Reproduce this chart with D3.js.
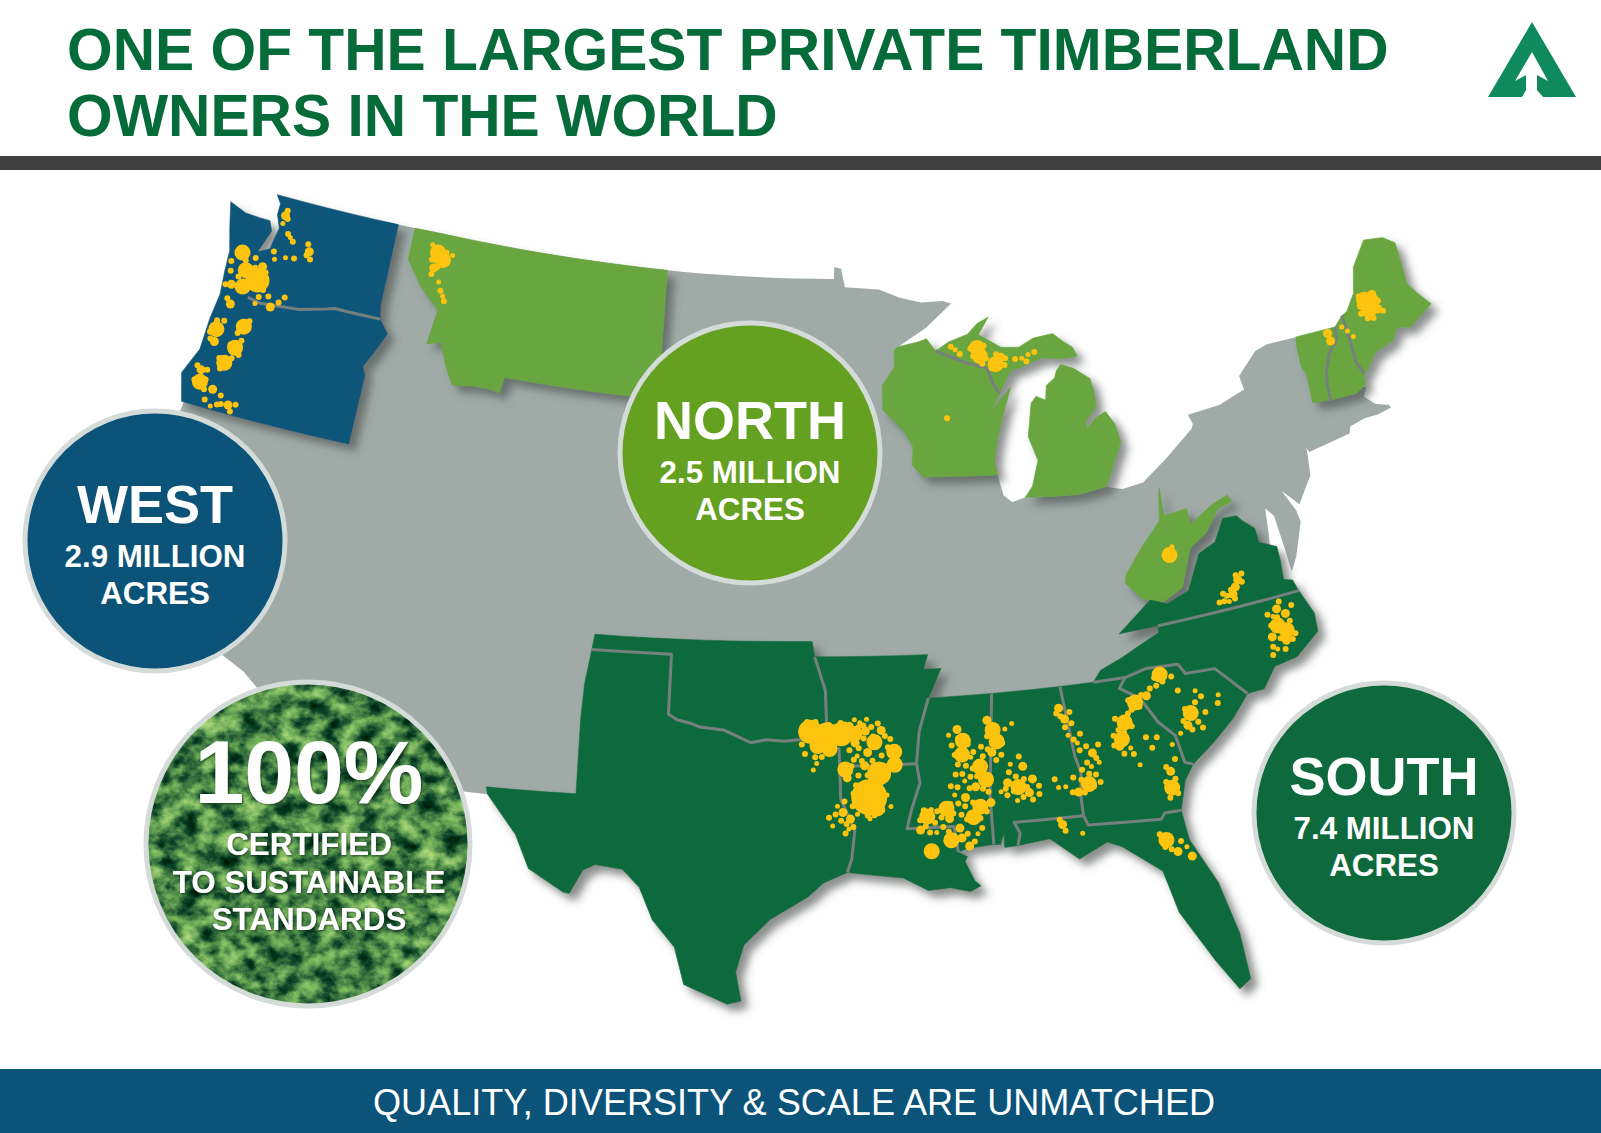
<!DOCTYPE html>
<html>
<head>
<meta charset="utf-8">
<script src="https://cdn.jsdelivr.net/npm/d3@7"></script>
<style>
  html, body { margin: 0; padding: 0; background: #fff; }
  svg { display: block; }
  text { font-family: "Liberation Sans", Arial, sans-serif; }
</style>
</head>
<body>
<div id="chart"></div>
<script>
// shared state borders, lon/lat
const borderWaOr = [[-124.05,46.27],[-123.45,46.27],[-123.2,46.15],[-122.8,46.05],[-122.75,45.65],[-122.2,45.58],[-121.2,45.65],[-120.5,45.7],[-119.3,45.93],[-118.98,46],[-116.92,46]];
const borderWiMi = [[-90.4,46.55],[-89.1,46.13],[-88.1,45.9],[-87.85,45.35],[-87.6,45.1]];
const borderVtNh = [[-71.5,45.01],[-71.55,44.55],[-72.05,44.1],[-72.35,43.5],[-72.45,43],[-72.46,42.4]];
const borderNhMe = [[-71.08,45.3],[-71,44.5],[-70.97,43.6],[-70.75,43.1]];
const borderVaNc = [[-81.7,36.59],[-75.87,36.55]];
const borderNcGa = [[-84.32,35],[-83.1,35]];
const borderNcSc = [[-83.1,35],[-82.3,35.2],[-81.05,35.15],[-80.8,34.82],[-79.67,34.8],[-78.55,33.86]];
const borderSamGa = [[-83.1,35],[-83.35,34.7],[-82.6,34.3],[-82,33.5],[-81.4,33],[-81.15,32.15],[-80.85,32.05]];
const borderAlGa = [[-85.6,35],[-85.2,32.87],[-85,32.3],[-85.05,31.55],[-85,31]];
const borderGaFl = [[-85,31],[-84.85,30.7],[-82.2,30.55],[-82.05,30.72],[-81.45,30.72]];
const borderAlFl = [[-85,31],[-87.6,31],[-87.4,30.65],[-87.5,30.28]];
const borderMsAl = [[-88.2,35],[-88.45,31.9],[-88.4,30.37]];
const borderMsLa = [[-91.15,33],[-91.05,32.4],[-91.4,31.6],[-91.6,31],[-89.85,31],[-89.73,30.2]];
const borderArMs = [[-90.6,35],[-91,34],[-91.15,33]];
const borderArLa = [[-94.04,33],[-91.15,33]];
const borderOkAr = [[-94.62,36.5],[-94.43,35.39],[-94.48,33.64]];
const borderTxAr = [[-94.48,33.64],[-94.04,33.55],[-94.04,33]];
const borderTxLa = [[-94.04,33],[-94.04,31.98],[-93.55,31],[-93.7,30.1],[-93.85,29.7]];
const borderTxOk = [[-103,36.5],[-100,36.5],[-100,34.56],[-99.7,34.4],[-99.2,34.3],[-98.9,34.2],[-98.1,34.13],[-97.7,33.98],[-97.15,33.75],[-96.6,33.85],[-96,33.8],[-95.2,33.88],[-94.48,33.64]];

const rev = a => a.slice().reverse();

// rest of the lower 48, runs inland under the coloured states
const usOutline = [[-119,47],[-117.5,49],[-95.15,49],[-95.15,49.38],[-94.8,49.32],[-94.6,48.72],[-93,48.6],[-92,48.3],[-91,48.1],[-90,48.1],[-89.6,48],[-90.8,47.3],[-92.1,46.75],[-91,46],[-89,45],[-88,44.55],[-87.1,45.25],[-87.5,44.4],[-87.75,43.7],[-87.9,43],[-87.8,42.5],[-87.6,41.85],[-87.3,41.62],[-86.8,41.76],[-84.8,41.73],[-83.45,41.72],[-82.7,41.5],[-81.7,41.5],[-80.5,42],[-79,42.75],[-78.9,42.9],[-79.05,43.27],[-77.5,43.27],[-76.2,43.55],[-76.3,44.1],[-75.3,44.85],[-74.7,45],[-73.4,45],[-72.8,44],[-72.6,42.9],[-71.5,42.8],[-70.8,42.6],[-71,42.3],[-70.6,41.95],[-70,41.8],[-70.2,42.07],[-69.95,41.7],[-70.6,41.55],[-71.2,41.5],[-71.9,41.3],[-72,41.05],[-73.9,40.58],[-73.98,40.75],[-74,40.45],[-74.1,39.75],[-74.9,38.95],[-75.5,39.5],[-75.1,38.8],[-75.05,38.45],[-75.6,37.55],[-75.95,37.15],[-76,37.9],[-76.1,38.9],[-76.4,39.2],[-76.5,38.5],[-76.6,38],[-77,37.5],[-79,36.8],[-84,35],[-88,33],[-93,33],[-98,33],[-102,31],[-104,31],[-106.3,31.75],[-106.5,31.78],[-108.2,31.78],[-108.2,31.33],[-111.07,31.33],[-114.8,32.5],[-117.12,32.53],[-117.3,33.1],[-118.4,33.75],[-119.2,34.15],[-120.6,34.55],[-120.65,35.15],[-121.9,36.6],[-122.5,37.5],[-123,38],[-123.75,39],[-124.35,40.3],[-124.2,41],[-124.1,42.1],[-123,43],[-120,46]];

const westStates = [
  [[-124.7,48.38],[-123.9,48.17],[-123.2,48.15],[-122.75,48.15],[-122.55,47.85],[-122.9,47.1],[-122.4,47.3],[-122.35,47.6],[-122.25,48],[-122.5,48.4],[-122.5,48.75],[-122.76,49],[-117.03,49],[-117.03,46.42],[-116.92,46],...rev(borderWaOr).slice(1),[-124.1,46.9],[-124.4,47.6]],
  [...borderWaOr,[-116.47,45.6],[-116.9,44.9],[-117.2,44.45],[-117.03,44.2],[-117.03,42],[-124.2,42],[-124.55,42.85],[-124.1,43.7],[-124.07,44.7],[-123.95,45.5]]
];
const northStates = [
  [[-116.25,49],[-104.05,49],[-104.05,45],[-111.05,45],[-111.05,44.48],[-111.5,44.55],[-112.3,44.55],[-113.2,44.45],[-113.65,44.95],[-114.1,45.7],[-114.7,45.55],[-114.5,46.65],[-115.45,47.25],[-116.25,48]],
  [[-92.1,46.75],[-91.2,46.87],[-90.8,46.95],...borderWiMi,[-88,44.55],[-87.1,45.25],[-87.5,44.4],[-87.75,43.7],[-87.9,43],[-87.8,42.5],[-90.65,42.5],[-91.15,42.9],[-91.2,43.5],[-91.7,44.05],[-92.75,44.75],[-92.85,45.55],[-92.3,46.1],[-92.3,46.65]],
  [[-90.4,46.55],[-89.8,46.8],[-88.9,47],[-88.45,47.3],[-87.9,47.47],[-88.4,46.95],[-87.4,46.5],[-86.6,46.45],[-85.9,46.68],[-85,46.75],[-84.5,46.45],[-84.1,46.25],[-83.9,45.95],[-84.7,45.95],[-85.6,46.05],[-86.5,45.85],[-87.05,45.75],...rev(borderWiMi)],
  [[-84.75,45.78],[-84.15,45.6],[-83.4,45.2],[-83.3,44.8],[-83.3,44.3],[-83.9,43.9],[-83.9,43.65],[-83.4,43.95],[-82.9,44.07],[-82.55,43.6],[-82.42,43],[-82.9,42.4],[-83.15,42.05],[-83.45,41.73],[-84.8,41.73],[-86.8,41.76],[-86.5,42.1],[-86.2,42.9],[-86.5,43.65],[-86.25,44.7],[-86,44.9],[-85.6,44.75],[-85.5,45.2],[-85.1,45.4],[-85,45.6]],
  [[-73.35,45.01],...borderVtNh,[-73.27,42.42],[-73.25,43.55],[-73.4,43.8],[-73.4,44.6]],
  [...borderVtNh,[-71.3,42.45],[-70.8,42.7],...rev(borderNhMe)],
  [...borderNhMe,[-70.7,43.07],[-70,43.75],[-69.1,44],[-68.8,44.4],[-68.2,44.3],[-67,44.85],[-67.45,45.3],[-67.8,45.7],[-67.8,47.07],[-68.3,47.35],[-69.2,47.45],[-70,46.7],[-70.3,45.9],[-70.8,45.4]],
  // west virginia sits apart from virginia in the picture
  [[-81,41.15],[-81,40.2],[-79.9,40.15],[-79.85,39.6],[-78.7,39.95],[-77.95,40.05],[-77.8,39.8],[-78.5,39.75],[-79.2,39.15],[-80,38.85],[-80.55,37.65],[-81.4,37.35],[-82.3,37.65],[-83,38.35],[-82.95,38.65],[-82.1,39.5],[-81.25,40.1],[-81.05,41.05]]
];
const southStates = [
  [[-83.3,36.6],...borderVaNc,[-76,36.9],[-76.35,37],[-76.3,37.55],[-76.3,38],[-77,38.3],[-77.05,38.75],[-77.5,39.1],[-77.72,39.32],[-78.35,39.4],[-78.87,38.77],[-79.65,38.58],[-80.3,37.5],[-81.25,37.25],[-81.95,37.53]],
  [...borderNcGa,...borderNcSc,[-77.9,33.9],[-77.4,34.5],[-76.5,34.65],[-75.55,35.25],[-75.5,35.8],...rev(borderVaNc),[-81.7,36.35],[-82.6,36],[-83.2,35.73],[-84.05,35.4]],
  [...borderNcSc,[-79.2,33.2],[-80,32.6],...rev(borderSamGa)],
  [[-85.6,35],...borderNcGa,...borderSamGa,[-81.2,31.6],...rev(borderGaFl),...rev(borderAlGa)],
  [[-88.2,35],...borderAlGa,...borderAlFl,[-88,30.25],[-88,30.7],[-88.15,30.35],[-88.4,30.37],...rev(borderMsAl).slice(1)],
  [...borderGaFl,[-81.3,29.8],[-80.7,28.4],[-80.45,26.8],[-80.5,25.4],[-80.95,25.15],[-81.5,26.1],[-82.3,27.7],[-82.5,29],[-83.7,29.9],[-84.2,30.1],[-85.3,29.7],[-86.3,30.4],[-87.5,30.28],...rev(borderAlFl).slice(0,-1)],
  [[-90.6,35],...borderMsAl,[-89.4,30.3],...rev(borderMsLa),[-91,34]],
  [[-94.04,33],...borderArLa.slice(1),...borderMsLa.slice(1),[-89.4,30.05],[-89.5,29.9],[-89.2,29.3],[-89,29.15],[-89.4,29],[-90.1,29.15],[-90.9,29.1],[-91.8,29.5],[-92.3,29.55],...rev(borderTxLa)],
  [...borderOkAr,...borderTxAr,...borderArLa.slice(1),...rev(borderArMs),[-90.05,36],[-90.7,36],[-90.5,36.5]],
  [[-103,37],[-94.62,37],...borderOkAr,...rev(borderTxOk)],
  [...borderTxOk,...borderTxAr.slice(1),...borderTxLa.slice(1),[-94.7,29.4],[-95.2,29],[-96.4,28.35],[-97.2,27.6],[-97.4,26.8],[-97.15,25.95],[-97.6,25.85],[-99.1,26.4],[-99.5,27.5],[-100.3,28.3],[-100.8,29.25],[-101.4,29.77],[-102.3,29.88],[-102.7,29.7],[-103.1,28.98],[-103.3,29],[-104.5,29.65],[-105,30.65],[-106.5,31.78],[-106.6,32],[-103.06,32]]
];
const stateBorders = [borderWaOr.slice(4),borderWiMi,borderVtNh,borderNhMe,borderVaNc,borderNcGa,borderNcSc,borderSamGa,borderAlGa,borderGaFl,borderAlFl,borderMsAl,borderMsLa,borderArMs,borderArLa,borderOkAr,borderTxAr,borderTxLa,borderTxOk];

// timberland holdings: lon, lat, size class
const holdingsWest = [[-123.53,46.95,3],[-123.1,45.93,3],[-122.55,46.24,4],[-122.5,46.7,2],[-123.17,46.45,3],[-123.6,45.9,2],[-121.7,45.55,2],[-123.4,45.3,2],[-123.67,44.43,3],[-123.6,44.05,2],[-122.57,44.74,3],[-122.68,44.04,3],[-122.94,43.5,3],[-123.8,43.1,2],[-123.7,42.73,3],[-123.1,42.62,2],[-122.3,42.28,2],[-123,42.1,1],[-122.13,48.43,2],[-122.15,48.17,1],[-121.66,47.81,1],[-120.67,47.53,2],[-121.63,47.16,1],[-122.08,47.02,1],[-122.38,45.53,1]];
const holdingsNorth = [[-115,48.4,3],[-114.7,48.2,3],[-115.05,47.9,2],[-115.3,48.6,1],[-114.3,48.4,1],[-114.4,47.1,1],[-114.7,47.5,1],[-88.5,46.55,3],[-88.4,46.3,3],[-87.7,46,3],[-87.45,46.2,2],[-86.5,46.1,1],[-86.2,46.2,1],[-89.5,46.55,1],[-88.1,46.2,1],[-69.9,45.6,3],[-69.6,45.5,3],[-69.8,45.25,3],[-69.4,45.2,2],[-70.1,45.45,2],[-69.5,45.7,2],[-71.9,44.85,2],[-71.85,44.55,2],[-71.2,44.95,1],[-71,44.75,1],[-70.8,44.5,1],[-80.95,38.85,3],[-80.8,39.1,1]];
const holdingsSouth = [[-95.1,34.1,4],[-94.5,34,4],[-93.95,34,4],[-93.45,34,3],[-94.85,33.65,3],[-94.4,33.55,3],[-92.7,33.72,3],[-91.97,33.4,3],[-91.97,33,3],[-92.57,32.75,4],[-93.83,32.9,3],[-93.77,32.64,2],[-92.97,32.02,5],[-93.17,31.76,3],[-92.7,31.66,3],[-93.63,34.24,2],[-93.23,34.34,1],[-93.03,34.08,2],[-93.43,33.72,2],[-92.97,33.41,2],[-92.43,34.08,2],[-93.1,33,2],[-93.43,34.44,1],[-92.97,34.44,1],[-93.37,33.31,1],[-92.3,32.07,1],[-92.17,31.71,1],[-93.97,31.56,2],[-93.7,31.35,2],[-94.17,31.76,1],[-93.77,31.04,1],[-94.37,31.14,1],[-95.03,32.9,1],[-94.9,33.1,1],[-93.43,31.5,1],[-92.97,31.35,1],
  [-89.57,33.98,2],[-89.37,33.62,3],[-89.43,33.2,3],[-89.1,33.1,1],[-89.9,33.82,1],[-88.77,32.79,3],[-88.57,32.38,3],[-88.97,32.18,2],[-89.37,31.87,2],[-88.83,31.56,3],[-89.1,31.25,3],[-89.77,31.97,1],[-89.37,32.38,1],[-88.43,31.66,2],[-90.83,31.35,3],[-90.1,31.56,3],[-91.1,30.94,2],[-90,31.25,2],[-90.5,30.84,1],[-90.67,31.56,1],[-89.97,30.58,3],[-89.57,30.63,2],[-89.3,30.37,2],[-90.72,30.27,3],[-89.63,30.94,2],[-88.97,30.73,1],
  [-88.43,34.19,2],[-88.23,33.88,3],[-88.1,33.52,3],[-87.77,33.88,1],[-87.5,34.03,1],[-88.3,33.2,2],[-87.63,32.79,1],[-87.17,32.69,2],[-87.77,32.23,2],[-87.37,32.07,3],[-86.97,31.87,2],[-86.83,32.28,2],[-88.03,31.97,1],[-87.43,31.66,1],
  [-85.7,34.35,2],[-85.5,34,2],[-85.4,33.5,1],[-85.07,33.23,1],[-84.53,32.87,2],[-84.6,32.46,1],[-84.73,31.94,3],[-85.13,31.74,2],[-85.6,31.94,1],[-84.3,32.56,1],[-85.87,31.94,1],[-85.8,30.8,2],[-85.07,30.47,1],
  [-83.25,33.65,3],[-83.4,33.15,3],[-83.5,32.95,2],[-83.1,32.85,1],[-82.8,32.3,1],[-81.78,34.92,3],[-82.35,34.35,2],[-82.8,34.2,3],[-80.5,34.25,1],[-79.65,34,1],[-80.75,33.6,3],[-80.9,33.25,2],[-81.2,33.05,1],[-81.55,32.75,1],[-81.7,31.95,2],[-81.7,31.45,3],[-82.1,29.9,3],[-81.8,29.5,2],[-81.45,29.6,1],[-81.35,29.3,2],
  [-76.9,36.2,2],[-76.6,36,2],[-77,35.7,3],[-76.7,35.5,3],[-77.3,35.4,2],[-76.8,35.2,2],[-77.2,35,1],[-77.1,36,1],[-78.2,37.4,2],[-78.35,37.2,2],[-78.5,37,2],[-78.7,36.8,1]];
// scattered small tracts around the blocks above
const tractsWest = [[-123.9,46.6],[-123.8,46.3],[-123.4,46.2],[-123.3,46.75],[-122.9,46.9],[-122.85,46.3],[-122.9,46.05],[-122.3,46.55],[-122.8,46.6],[-122.2,46],[-122.3,45.75],[-121.9,45.85],[-121.4,45.75],[-121.2,45.95],[-123.2,46],[-123.85,45.85],[-123.6,45.45],[-123.75,44.7],[-123.9,44.3],[-123.45,44.75],[-123.8,44.1],[-122.4,44.95],[-122.75,44.5],[-122.5,44.3],[-122.9,44.1],[-122.45,43.85],[-123.2,43.6],[-123.05,43.3],[-122.7,43.7],[-124,43.2],[-123.55,43.15],[-123.5,42.85],[-123.95,42.75],[-123.45,42.55],[-122.7,42.5],[-122.6,42.25],[-122,42.35],[-122.15,42.1],[-122.75,42.2],[-123.3,42.25],[-122.1,48.6],[-122,48.35],[-121.8,47.9],[-121.5,47.7],[-120.8,47.75],[-120.55,47.3],[-120.75,47.4],[-121.25,47.2],[-122.2,47.25]];
const tractsNorth = [[-115.2,48.15],[-115,48.15],[-114.9,47.95],[-114.6,48.45],[-115.1,47.7],[-114.55,47.25],[-114.3,46.95],[-88.8,46.55],[-88.2,46.6],[-88.3,46.05],[-87.9,45.9],[-87.3,45.95],[-87.25,46.15],[-86.8,46.1],[-86.3,46],[-85.9,46.25],[-89.7,46.65],[-89.3,46.4],[-88.7,46.3],[-87.65,46.3],[-70.1,45.75],[-70.2,45.2],[-69.7,44.95],[-69.3,45.45],[-69.2,45.1],[-69.95,45],[-89.9,44.4]];
const tractsSouth = [[-93.8,34.3],[-93.5,34.1],[-93.3,34.2],[-93.1,34.25],[-92.8,34.2],[-92.55,34.3],[-92.3,33.9],[-92.1,33.8],[-92.75,33.9],[-93.1,33.85],[-93.3,33.55],[-93.65,33.5],[-93.5,33.2],[-93.2,33.15],[-92.8,33.15],[-92.45,33.3],[-92.2,33.55],[-93.6,33],[-93.35,32.7],[-93,32.7],[-92.85,32.5],[-93.45,32.4],[-93.2,32.4],[-92.55,32.35],[-92.4,32.55],[-93.55,32.15],[-93.35,31.95],[-92.45,31.95],[-92.5,31.6],[-93.05,31.45],[-92.8,31.45],[-93.6,31.75],[-93.9,31.9],[-94.05,31.3],[-93.85,31.2],[-94.25,31.5],[-93.6,31.1],[-93.9,30.9],[-94.5,31.4],[-94.7,33.3],[-95.3,33.4],[-95.4,33.7],[-94.95,33.3],[-95.2,34.4],[-94.9,34.4],[-94.4,34.3],[-93.95,34.35],
  [-89.8,33.5],[-89.7,33.2],[-89.55,33.7],[-89.2,33.5],[-89,33.25],[-89.6,32.9],[-89.3,32.85],[-89.05,32.75],[-89.7,32.6],[-89.45,32.6],[-89.15,32.5],[-88.9,32.5],[-89.9,32.25],[-89.65,32.2],[-89.2,32.15],[-88.7,32.1],[-88.5,32],[-89.95,31.7],[-89.65,31.7],[-89.4,31.6],[-89.1,31.7],[-88.6,31.4],[-88.85,31.2],[-89.35,31.2],[-89.55,31.35],[-89.85,31.4],[-90.3,31.3],[-90.45,31.5],[-90.55,31.15],[-90.9,31.05],[-90.75,30.85],[-90.25,31],[-90.05,30.85],[-89.85,30.7],[-89.35,30.75],[-89.1,30.5],[-88.8,30.9],[-90.15,30.55],[-91.1,31.25],[-90.95,31.55],[-88.7,33.4],[-88.65,33.1],[-88.45,33.3],[-88.1,33.95],[-88.45,33.7],[-87.9,33.45],[-87.95,33.1],[-88.15,32.95],[-87.7,32.55],[-87.45,32.4],[-87.15,32.3],[-87.05,32.05],[-87.55,31.95],[-87.8,31.85],[-87.2,31.75],[-86.85,31.65],[-86.6,32.05],[-87.3,33],[-87.85,32.05],[-86.6,31.8],
  [-85.65,34.1],[-85.8,34.2],[-85.3,34.2],[-85.5,33.75],[-85.25,33.85],[-85.2,33.35],[-84.95,33.5],[-85,33],[-84.75,33.1],[-84.3,33.1],[-84.4,32.7],[-84.75,32.6],[-84.95,32.4],[-84.7,32.25],[-84.45,32.2],[-85,32.1],[-85.3,32.2],[-84.9,31.7],[-84.55,31.85],[-85.35,31.75],[-84.3,31.95],[-86,32.2],[-85.9,30.95],[-85.7,30.6],
  [-83.6,33.8],[-83.5,33.45],[-83.1,33.9],[-83,33.5],[-83.3,33.35],[-83.7,33.3],[-83.7,33],[-83.35,32.7],[-83,32.65],[-82.95,34],[-83.05,34.3],[-82.65,34.05],[-82.55,34.4],[-82.2,34.55],[-82,34.85],[-81.6,34.95],[-81.35,34.8],[-81.95,34.6],[-81.7,34.7],[-81.15,34.35],[-82.5,33.1],[-82.3,32.75],[-82.1,33.05],[-80.3,34.05],[-80.55,33.9],[-80.2,33.55],[-80.95,33.75],[-80.5,33.3],[-80.35,33.1],[-80.75,33.1],[-81.05,33.4],[-79.7,33.75],[-81.5,32.3],[-81.85,32.1],[-81.55,31.7],[-81.9,31.65],[-81.5,31.25],[-81.8,31.15],[-82.3,30.1],[-82.2,29.7],[-82,29.6],[-81.6,29.8],
  [-77.3,36.1],[-76.95,35.95],[-76.5,35.75],[-77.25,35.75],[-77.35,35.1],[-77,35.3],[-76.55,35.2],[-76.4,35.35],[-77.4,34.85],[-76.9,34.95],[-76.75,36.4],[-76.3,36.2],[-78,37.55],[-78.05,37.3],[-78.25,37.55],[-78.55,37.15],[-78.75,37],[-78.9,36.85],[-78.45,36.85],[-79.1,36.85],[-78.9,37.1]];

// offsets that pull the projected map onto the picture, by grid node
const gridLons = [-125, -115, -105, -95, -85, -75, -65];
const gridLats = [25, 30, 35, 40, 45, 50];
const gridDx = [
  [25, -10, -55, -38, 2, 15, 0],
  [25, -10, -60, -22, -18, -5, 0],
  [25, 0, -63, -25, -10, 3, 0],
  [-4, 10, -33, -50, 15, -10, -6],
  [-2, 13, 22, 0, 8, -3, 0],
  [0, 14, 20, 5, 10, 0, 0]
];
const gridDy = [
  [0, 0, 5, 7, 2, 0, 0],
  [0, 0, -3, -8, -5, -10, 0],
  [5, 5, -12, -10, -12, -18, 0],
  [8, 7, -5, -5, 12, -30, -3],
  [3, 5, 10, 7, 8, 0, 0],
  [0, 0, 4, 7, 0, 0, 0]
];

const titleLines = ["ONE OF THE LARGEST PRIVATE TIMBERLAND", "OWNERS IN THE WORLD"];
const footerText = "QUALITY, DIVERSITY & SCALE ARE UNMATCHED";
const regionNames = ["WEST", "NORTH", "SOUTH"];
const regionAcres = ["2.9 MILLION", "2.5 MILLION", "7.4 MILLION"];
const regionColors = ["#0b5379", "#65a121", "#0e6a3c"];
const regionCenters = [[155, 541], [750, 453], [1384, 813]];
const regionTextY = [541, 457, 813];
const certLines = ["CERTIFIED", "TO SUSTAINABLE", "STANDARDS"];
const logoOuter = [[1532,22],[1488,97],[1576,97]];
const logoInner = [[1532,52],[1515,81],[1526,75],[1526,90],[1522,97],[1543,97],[1537,90],[1537,75],[1548,81]];

const width = 1601, height = 1133;
const svg = d3.select("#chart").append("svg").attr("width", width).attr("height", height);

const defs = svg.append("defs");
const shadow = defs.append("filter").attr("id", "stateShadow").attr("x", "-10%").attr("y", "-10%").attr("width", "125%").attr("height", "125%");
shadow.append("feDropShadow").attr("dx", 7).attr("dy", 7).attr("stdDeviation", 4).attr("flood-color", "#4c5250").attr("flood-opacity", 0.65);

const textShadow = defs.append("filter").attr("id", "textShadow").attr("x", "-10%").attr("y", "-10%").attr("width", "120%").attr("height", "130%");
textShadow.append("feDropShadow").attr("dx", 1).attr("dy", 1).attr("stdDeviation", 1.2).attr("flood-color", "#0a2a0a").attr("flood-opacity", 0.8);

// forest canopy texture for the photo circle
const forest = defs.append("filter").attr("id", "forest").attr("x", 0).attr("y", 0).attr("width", "100%").attr("height", "100%");
forest.append("feTurbulence").attr("type", "fractalNoise").attr("baseFrequency", "0.05 0.06").attr("numOctaves", 5).attr("seed", 7);
forest.append("feColorMatrix").attr("type", "matrix").attr("values", "1 0 0 0 0  1 0 0 0 0  1 0 0 0 0  0 0 0 0 1");
const ramp = forest.append("feComponentTransfer");
ramp.append("feFuncR").attr("type", "table").attr("tableValues", "0 0 0 0.01 0.06 0.16 0.3 0.5 0.6");
ramp.append("feFuncG").attr("type", "table").attr("tableValues", "0 0.01 0.03 0.08 0.22 0.42 0.58 0.7 0.75");
ramp.append("feFuncB").attr("type", "table").attr("tableValues", "0 0 0.01 0.03 0.06 0.1 0.16 0.22 0.3");

defs.append("clipPath").attr("id", "photoClip").append("circle").attr("cx", 308).attr("cy", 844).attr("r", 162);

// albers, then stretched onto the picture between the extreme points
const albers = d3.geoAlbers().scale(1000).translate([0, 0]);
const xScale = d3.scaleLinear()
  .domain([albers([-124.7,48.38])[0], albers([-67,44.85])[0]]).range([231, 1432]);
const yScale = d3.scaleLinear()
  .domain([albers([-122.76,49])[1], albers([-97.4,25.85])[1]]).range([194, 1000]);

const lonIndex = d3.scaleLinear().domain(gridLons).range(gridLons.map((_, i) => i)).clamp(true);
const latIndex = d3.scaleLinear().domain(gridLats).range(gridLats.map((_, i) => i)).clamp(true);
function offset(grid, d) {
  const u = lonIndex(d[0]), v = latIndex(d[1]);
  const i = Math.min(Math.floor(u), gridLons.length - 2), j = Math.min(Math.floor(v), gridLats.length - 2);
  const s = u - i, t = v - j;
  return (grid[j][i] * (1 - s) + grid[j][i + 1] * s) * (1 - t) + (grid[j + 1][i] * (1 - s) + grid[j + 1][i + 1] * s) * t;
}
const px = d => xScale(albers(d)[0]) + offset(gridDx, d);
const py = d => yScale(albers(d)[1]) + offset(gridDy, d);

// long straight parallels have to bend with the projection
function densify(line) {
  const out = [];
  line.forEach((p, i) => {
    const q = line[i + 1];
    out.push(p);
    if (!q) return;
    const n = Math.floor(Math.hypot(q[0] - p[0], q[1] - p[1]));
    for (let k = 1; k < n; k++) {
      const f = k / n;
      out.push([p[0] + (q[0] - p[0]) * f, p[1] + (q[1] - p[1]) * f]);
    }
  });
  return out;
}
const lineGeo = d3.line().x(px).y(py);
const geoPath = d => lineGeo(densify(d));
const closedPath = d => geoPath([...d, d[0]]) + "Z";
const plainPath = d3.line();
const sizeScale = d3.scaleLinear().domain([1, 2, 3, 4, 5]).range([2.5, 4.5, 8, 12, 18]);

// header
titleLines.forEach((t, i) => {
  svg.append("text").attr("x", 67).attr("y", 70 + i * 66).attr("font-size", 58.7).attr("font-weight", "bold").attr("fill", "#056b39").text(t);
});
svg.append("rect").attr("x", 0).attr("y", 156).attr("width", width).attr("height", 14).attr("fill", "#414141");
svg.append("path").attr("d", plainPath(logoOuter) + "Z").attr("fill", "#0f8a5f");
svg.append("path").attr("d", plainPath(logoInner) + "Z").attr("fill", "#fff");

// map
const map = svg.append("g");
map.append("path").attr("d", closedPath(usOutline)).attr("fill", "#a0aba8");

const regions = [[westStates, "#0f5479"], [northStates, "#6aa641"], [southStates, "#116b3d"]];
regions.forEach(([states, color]) => {
  map.append("g").attr("filter", "url(#stateShadow)")
    .selectAll("path").data(states).join("path")
    .attr("d", closedPath)
    .attr("fill", color)
    .attr("stroke", color)
    .attr("stroke-width", 0.6);
});

map.append("g").selectAll("path").data(stateBorders).join("path")
  .attr("d", geoPath)
  .attr("fill", "none")
  .attr("stroke", "#76817e")
  .attr("stroke-width", 3)
  .attr("stroke-linejoin", "round");

map.append("g").selectAll("circle").data([...holdingsWest, ...holdingsNorth, ...holdingsSouth]).join("circle")
  .attr("cx", px)
  .attr("cy", py)
  .attr("r", d => sizeScale(d[2]))
  .attr("fill", "#fcc30f");
map.append("g").selectAll("circle").data([...tractsWest, ...tractsNorth, ...tractsSouth]).join("circle")
  .attr("cx", px)
  .attr("cy", py)
  .attr("r", 3)
  .attr("fill", "#fcc30f");

// region badges
regionNames.forEach((name, i) => {
  const [cx, cy] = regionCenters[i];
  const ty = regionTextY[i];
  svg.append("circle").attr("cx", cx).attr("cy", cy).attr("r", 130).attr("fill", regionColors[i]).attr("stroke", "#d5dbd9").attr("stroke-width", 5);
  const label = svg.append("g").attr("text-anchor", "middle").attr("fill", "#fff").attr("font-weight", "bold");
  label.append("text").attr("x", cx).attr("y", ty - 18).attr("font-size", 54).text(name);
  label.append("text").attr("x", cx).attr("y", ty + 26).attr("font-size", 31.3).text(regionAcres[i]);
  label.append("text").attr("x", cx).attr("y", ty + 63).attr("font-size", 31.3).text("ACRES");
});

// certified circle
svg.append("g").attr("clip-path", "url(#photoClip)")
  .append("rect").attr("x", 140).attr("y", 676).attr("width", 340).attr("height", 340).attr("filter", "url(#forest)");
svg.append("circle").attr("cx", 308).attr("cy", 844).attr("r", 162).attr("fill", "none").attr("stroke", "#d5dbd9").attr("stroke-width", 5);
const cert = svg.append("g").attr("text-anchor", "middle").attr("fill", "#fff").attr("font-weight", "bold").attr("filter", "url(#textShadow)");
cert.append("text").attr("x", 309).attr("y", 803).attr("font-size", 89.5).text("100%");
certLines.forEach((t, i) => {
  cert.append("text").attr("x", 309).attr("y", 855 + i * 37.5).attr("font-size", 31.4).text(t);
});

// footer
svg.append("rect").attr("x", 0).attr("y", 1069).attr("width", width).attr("height", 64).attr("fill", "#0b5379");
svg.append("text").attr("x", 794).attr("y", 1115).attr("text-anchor", "middle").attr("font-size", 36.1).attr("fill", "#fff").text(footerText);
</script>
</body>
</html>
